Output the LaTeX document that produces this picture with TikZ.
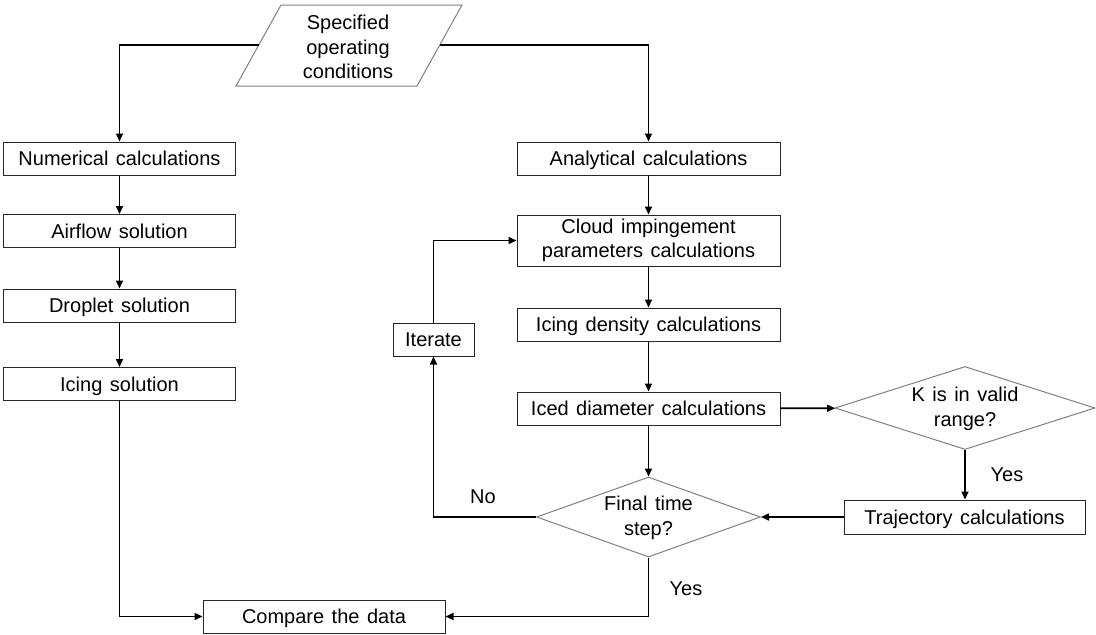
\documentclass[tikz,border=0pt]{standalone}
\usepackage{fontspec}
\setmainfont{Liberation Sans}[WordSpace=1.35]
\usetikzlibrary{shapes.geometric,arrows.meta}
\begin{document}
\begin{tikzpicture}[x=1pt,y=-1pt,
  font=\fontsize{20}{24.5}\selectfont,
  box/.style={draw=black!85,line width=1pt,rectangle,inner sep=0pt,minimum height=33pt,minimum width=#1,align=center},
  one/.style={text height=14.3pt,text depth=0pt},
  dia/.style={draw=black!50,line width=1pt,diamond,inner sep=0pt},
  arr/.style={draw=black,line width=1.6pt,-{Triangle[length=8pt,width=7pt]}},
  lbl/.style={inner sep=0pt,align=center}]
\useasboundingbox (0,0) rectangle (1096,635);
% input parallelogram
\draw[draw=black!50,line width=1pt] (281,5) -- (462,5) -- (417,86) -- (236,86) -- cycle;
\node[lbl] (spec) at (348,47) {Specified\\operating\\conditions};
\coordinate (specL) at (259,45);
\coordinate (specR) at (440,45);
% left column
\node[box=232,one] (num) at (119.5,158.5) {Numerical calculations};
\node[box=232,one] (air) at (119.5,231) {Airflow solution};
\node[box=232,one] (drop) at (119.5,305.5) {Droplet solution};
\node[box=232,one] (icing) at (119.5,384) {Icing solution};
\node[box=242,one] (comp) at (324,616.5) {Compare the data};
% right column
\node[box=263,one] (ana) at (648.5,158.5) {Analytical calculations};
\node[box=263,minimum height=51pt] (cloud) at (648.5,240.5) {Cloud impingement\\parameters calculations};
\node[box=263,one] (dens) at (648.5,324.5) {Icing density calculations};
\node[box=263,one] (iced) at (648.5,408.5) {Iced diameter calculations};
\node[box=81,one] (iter) at (433.5,339.5) {Iterate};
\node[dia,minimum width=260pt,minimum height=83pt] (K) at (965,408) {};
\node[lbl] (Ktext) at (965,409) {K is in valid\\range?};
\node[box=241,one,minimum height=34pt] (traj) at (964.5,517) {Trajectory calculations};
\node[dia,minimum width=224pt,minimum height=80pt] (final) at (648.5,517) {};
\node[lbl] (finaltext) at (648.5,518) {Final time\\step?};
% labels
\node[lbl,one] (no) at (483,496) {No};
\node[lbl,one] (yes1) at (1007,474) {Yes};
\node[lbl,one] (yes2) at (686,588) {Yes};
% connectors
\draw[arr] (specL) -| (num);
\draw[arr] (specR) -| (ana);
\draw[arr] (num) -- (air);
\draw[arr] (air) -- (drop);
\draw[arr] (drop) -- (icing);
\draw[arr] (icing) |- (comp);
\draw[arr] (ana) -- (cloud);
\draw[arr] (cloud) -- (dens);
\draw[arr] (dens) -- (iced);
\draw[arr] (iced) -- (final);
\draw[arr] (iced) -- (K);
\draw[arr] (K.south) -- (K.south |- traj.north);
\draw[arr] (traj) -- (final);
\draw[arr] (final) -| (iter);
\draw[arr] (iter) |- (cloud);
\draw[arr] (final) |- (comp);
\end{tikzpicture}
\end{document}
